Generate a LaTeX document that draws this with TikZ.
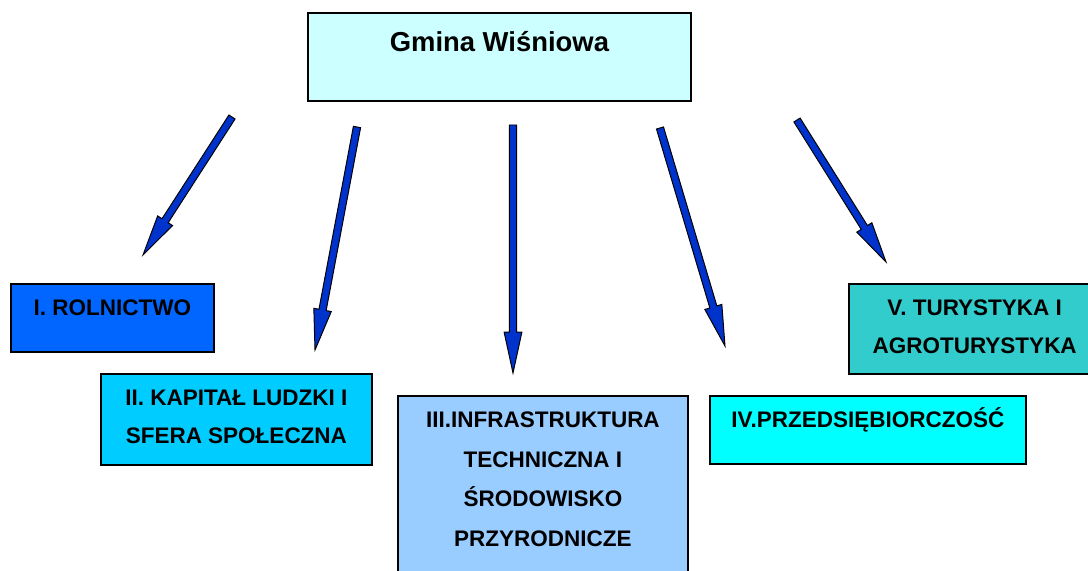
\documentclass[tikz,border=0pt]{standalone}
\usepackage{fontspec}
\setmainfont{Liberation Sans}
\usepackage{tikz}
\usetikzlibrary{calc}
\definecolor{gm}{HTML}{CCFFFF}
\definecolor{rl}{HTML}{0066FF}
\definecolor{kp}{HTML}{00CCFF}
\definecolor{inf}{HTML}{99CCFF}
\definecolor{prz}{HTML}{00FFFF}
\definecolor{tur}{HTML}{33CCCC}
\definecolor{ar}{HTML}{0033CC}
% block arrow from #1 to #2
\newcommand{\blockarrow}[2]{%
  \coordinate (h) at ($(#2)!29pt!(#1)$);
  \draw[barrow] ($(#1)!2.6pt!90:(#2)$) -- ($(h)!2.6pt!-90:(#1)$) -- ($(h)!6.3pt!-90:(#1)$)
    -- (#2) -- ($(h)!6.3pt!90:(#1)$) -- ($(h)!2.6pt!90:(#1)$) -- ($(#1)!2.6pt!-90:(#2)$) -- cycle;}

\begin{document}
\begin{tikzpicture}[x=0.025cm, y=-0.025cm,
                    box/.style = {draw=black, line width=1.2pt, rectangle, anchor=north west, inner sep=0pt},
                    txt/.style = {anchor=north, align=center, inner sep=0pt, text=black,
                                  font=\bfseries\fontsize{16}{27}\selectfont},
                    barrow/.style = {draw=black, line width=0.7pt, fill=ar, line join=miter}]
                \useasboundingbox (0,0) rectangle (1088,571);
                \node (gmina) [box, fill=gm, minimum width=9.575cm, minimum height=2.2cm] at (307,12)
                      [label={[txt, font=\bfseries\fontsize{19.5}{27}\selectfont]north:{\rule{0pt}{27.7pt}Gmina Wiśniowa}}] {};
                \node (rol) [box, fill=rl, minimum width=5.075cm, minimum height=1.7cm] at (10,283)
                      [label={[txt]north:{\rule{0pt}{22.8pt}I. ROLNICTWO}}] {};
                \node (kap) [box, fill=kp, minimum width=6.775cm, minimum height=2.275cm] at (100,373)
                      [label={[txt]north:{\rule{0pt}{22.8pt}II. KAPITAŁ LUDZKI I\\SFERA SPOŁECZNA}}] {};
                \node (inf) [box, fill=inf, minimum width=7.25cm, minimum height=5cm] at (397,395)
                      [label={[txt, font=\bfseries\fontsize{16}{28.3}\selectfont]north:{\rule{0pt}{22.8pt}III.INFRASTRUKTURA\\TECHNICZNA I\\ŚRODOWISKO\\PRZYRODNICZE}}] {};
                \node (prz) [box, fill=prz, minimum width=7.9cm, minimum height=1.7cm] at (709,395)
                      [label={[txt]north:{\rule{0pt}{22.8pt}IV.PRZEDSIĘBIORCZOŚĆ}}] {};
                \node (tur) [box, fill=tur, minimum width=6.5cm, minimum height=2.25cm] at (848,283)
                      [label={[txt, xshift=-3pt]north:{\rule{0pt}{22.8pt}V. TURYSTYKA I\\AGROTURYSTYKA}}] {};
                % arrow ends
                \coordinate (s1) at (232,117); \coordinate (e1) at (143,255);
                \coordinate (s2) at (357,127); \coordinate (e2) at (315,350);
                \coordinate (s3) at (513,125); \coordinate (e3) at (513,373);
                \coordinate (s4) at (660,128); \coordinate (e4) at (725,346);
                \coordinate (s5) at (797,120); \coordinate (e5) at (886,262);
                \foreach \i in {1,...,5} {\blockarrow{s\i}{e\i}}
            \end{tikzpicture}
\end{document}
